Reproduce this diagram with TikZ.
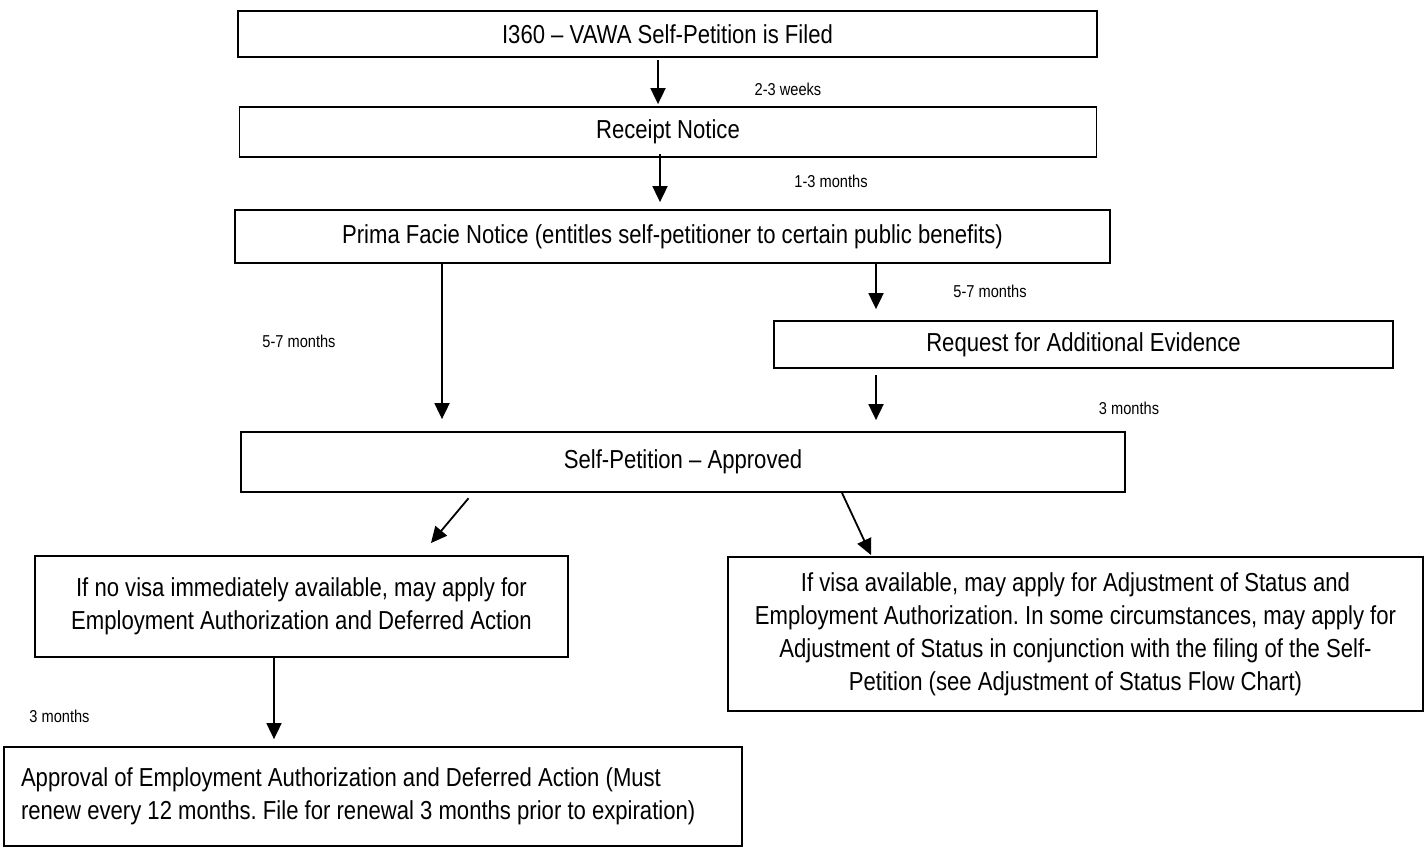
\documentclass[tikz,border=0pt]{standalone}
\usepackage{fontspec}
\setmainfont{Liberation Sans}[FakeStretch=0.85]
\usetikzlibrary{arrows.meta}
\frenchspacing

\begin{document}
\begin{tikzpicture}[x=0.5pt, y=-0.5pt,
		box/.style={draw, line width=0.9pt, inner sep=0pt, align=center, font=\fontsize{13}{16.5}\selectfont},
		arr/.style={line width=0.9pt, -{Triangle[length=8pt, width=7.5pt]}},
		lbl/.style={font=\fontsize{8.6}{10}\selectfont, inner sep=0pt}]
		\useasboundingbox (0,0) rectangle (1427,848);
		%boxes
		\node[box, minimum width=429.5pt, minimum height=23pt] (filed) at (667.5,34) {I360 – VAWA Self-Petition is Filed};
		\node[box, minimum width=428.5pt, minimum height=25pt] (receipt) at (668,132) {Receipt Notice};
		\node[box, minimum width=437.5pt, minimum height=26.5pt] (prima) at (672.5,236.5) {Prima Facie Notice (entitles self-petitioner to certain public benefits)};
		\node[box, minimum width=309.5pt, minimum height=23.5pt] (request) at (1083.5,344.5) {Request for Additional Evidence};
		\node[box, minimum width=442pt, minimum height=30pt] (approved) at (683,462) {Self-Petition – Approved};
		\node[box, minimum width=266.5pt, minimum height=50.5pt] (novisa) at (301.5,606.5) {If no visa immediately available, may apply for\\Employment Authorization and Deferred Action};
		\node[box, minimum width=347.5pt, minimum height=77pt] (visa) at (1075.5,634) {If visa available, may apply for Adjustment of Status and\\Employment Authorization. In some circumstances, may apply for\\Adjustment of Status in conjunction with the filing of the Self-\\Petition (see Adjustment of Status Flow Chart)};
		\node[box, align=flush left, text width=352pt, inner xsep=8.5pt, minimum height=49.5pt] (approval) at (373,796.5) {Approval of Employment Authorization and Deferred Action (Must\\renew every 12 months. File for renewal 3 months prior to expiration)};
		%arrows
		\draw[arr, shorten <=1pt, shorten >=1pt] (filed.south -| 658,0) -- (receipt.north -| 658,0);
		\draw[arr, shorten <=-2pt, shorten >=3.5pt] (receipt.south -| 660,0) -- (prima.north -| 660,0);
		\draw[arr, shorten >=6pt] (prima.south -| 442,0) -- (approved.north -| 442,0);
		\draw[arr, shorten >=5.5pt] (prima.south -| 876,0) -- (request.north -| 876,0);
		\draw[arr, shorten <=3pt, shorten >=5.5pt] (request.south -| 876,0) -- (approved.north -| 876,0);
		\coordinate (left tip) at (431,543);
		\coordinate (right tip) at (871,555);
		\draw[arr, shorten <=3.5pt] (approved.south -| 473,0) -- (left tip);
		\draw[arr] (approved.south -| 842,0) -- (right tip);
		\draw[arr, shorten >=3.5pt] (novisa.south -| 274,0) -- (approval.north -| 274,0);
		%times
		\node[lbl] (t1) at (788,89) {2-3 weeks};
		\node[lbl] (t2) at (831,181) {1-3 months};
		\node[lbl] (t3) at (990,291) {5-7 months};
		\node[lbl] (t4) at (299,341) {5-7 months};
		\node[lbl] (t5) at (1129,408) {3 months};
		\node[lbl, anchor=west] (t6) at (29,716) {3 months};
	\end{tikzpicture}
\end{document}
